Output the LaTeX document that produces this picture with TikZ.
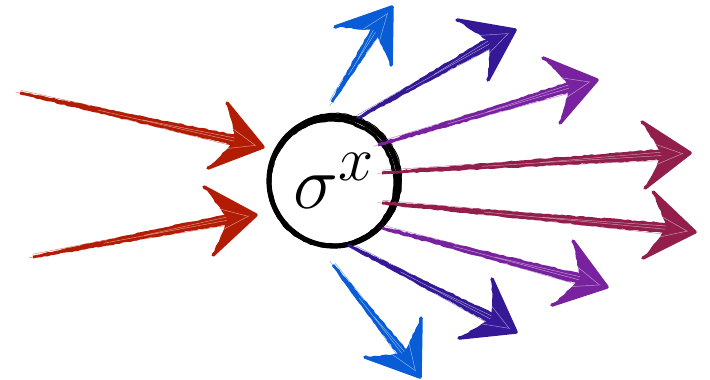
\documentclass[tikz,border=0pt]{standalone}
\usepackage{amsmath}
\usetikzlibrary{calc,decorations.pathmorphing}

\definecolor{inred}{RGB}{178,28,4}
\definecolor{outblue}{RGB}{8,92,214}
\definecolor{outindigo}{RGB}{52,24,150}
\definecolor{outpurple}{RGB}{120,34,160}
\definecolor{outmaroon}{RGB}{146,30,76}

\begin{document}
\begin{tikzpicture}[x=0.03cm, y=-0.03cm,
    site/.style={circle, draw=black, line width=4.4pt, minimum size=3.9cm, inner sep=0pt},
    rough/.style={decorate, decoration={random steps, segment length=3pt, amplitude=0.5pt}},
    barb/.style={line width=3pt, line cap=round, line join=round},
    streak/.style={line width=0.4pt, opacity=0.55},
]
\pgfmathsetseed{7}
\useasboundingbox (0,0) rectangle (710,379);

% central site
\node[site] (sig) at (334,181) {\scalebox{2.6}{\Huge$\sigma^x$}};
\draw[rough, line width=3pt] (332,183) circle (63);
\draw[rough, line width=0.8pt] (335,180) circle (66.5);
\draw[rough, line width=1pt] (333,182) circle (62);

% arrows: tail / tip / barb / barb / colour
\foreach \tx/\ty/\hx/\hy/\ux/\uy/\vx/\vy/\col [count=\i] in {
    20/93/263/147/227/103/208/168/inred,
    33/257/256/215/204/187/213/255/inred,
    332/102/392/7/335/27/391/65/outblue,
    358/118/515/30/457/20/488/80/outindigo,
    378/145/597/80/543/58/560/123/outpurple,
    382/173/690/153/642/122/645/188/outmaroon,
    382/203/695/232/653/192/643/258/outmaroon,
    382/228/607/287/573/241/552/305/outpurple,
    348/245/516/332/492/279/459/338/outindigo,
    333/265/420/377/421/318/365/357/outblue} {
    \coordinate (tail\i) at (\tx,\ty);
    \coordinate (tip\i) at (\hx,\hy);
    \coordinate (ba\i) at (\ux,\uy);
    \coordinate (bb\i) at (\vx,\vy);
    \coordinate (mid\i) at ($(ba\i)!0.5!(bb\i)$);
    \coordinate (hd\i) at ($(tip\i)!0.45!(mid\i)$);
    \coordinate (nk\i) at ($(tip\i)!0.6!(mid\i)$);
    % shaft
    \fill[\col, rough] ($(tail\i)!1.2pt!90:(hd\i)$) -- ($(tail\i)!1.2pt!-90:(hd\i)$)
        -- ($(hd\i)!4.6pt!90:(tail\i)$) -- ($(hd\i)!4.6pt!-90:(tail\i)$) -- cycle;
    \draw[\col, streak] ($(tail\i)!2.4pt!90:(hd\i)$) -- ($(hd\i)!2.4pt!-90:(tail\i)$);
    \draw[\col, streak] ($(tail\i)!-4pt!(hd\i)$) -- ($(hd\i)!5.4pt!90:(tail\i)$);
    \draw[white, streak] ($(tail\i)!0.35!(hd\i)$) -- ($(hd\i)!1pt!90:(tail\i)$);
    \draw[white, streak] ($(tail\i)!0.55!(hd\i)$) -- ($(hd\i)!2pt!-90:(tail\i)$);
    % head
    \fill[\col, rough] (ba\i) -- (tip\i) -- (bb\i) -- (nk\i) -- cycle;
    \draw[\col, barb] (ba\i) -- (tip\i) -- (bb\i);
    \draw[white, streak] ($(nk\i)!0.3!(ba\i)$) -- ($(tip\i)!0.3!(nk\i)$);
    \draw[white, streak] ($(nk\i)!0.3!(bb\i)$) -- ($(tip\i)!0.25!(nk\i)$);
}
\end{tikzpicture}
\end{document}
